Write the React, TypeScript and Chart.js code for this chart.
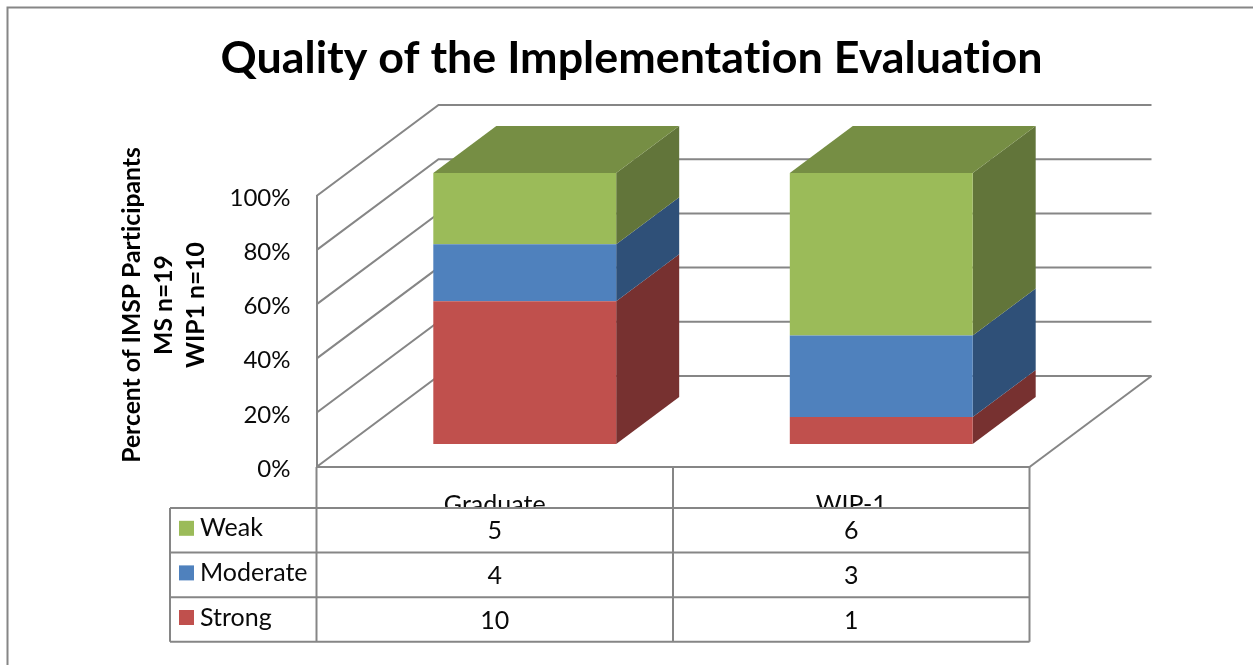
import React, { useEffect, useRef } from "react";
import { Chart, registerables } from "chart.js";

Chart.register(...registerables);

const categories = ["Graduate", "WIP-1"];
const strong = [10, 1];
const moderate = [4, 3];
const weak = [5, 6];
const yTicks = [0, 20, 40, 60, 80, 100];
const axisTitle = ["Percent of IMSP Participants", "MS n=19", "WIP1 n=10"];
const chartTitle = "Quality of the Implementation Evaluation";

const FONT = "Lato, Carlito, Calibri, sans-serif";
const LINE = "#868686";
const TEXT = "#0a0a0a";

const percent = (series: number[]) =>
  series.map((v, i) => (v / (strong[i] + moderate[i] + weak[i])) * 100);

const seriesRows = [
  { name: "Weak", counts: weak, front: "#9BBB59", side: "#62753A" },
  { name: "Moderate", counts: moderate, front: "#4F81BD", side: "#2F5078" },
  { name: "Strong", counts: strong, front: "#C0504D", side: "#773130" },
];
const TOP_FACE = "#768E44";

const WALL = { dx: 122, dy: 91 };
const BAR_SHIFT = { x: 30, y: -23 };
const BAR_DEPTH = { x: 63, y: -47 };
const TABLE = { left: 170, top: 508, row: 44.6 };

const line = (ctx: CanvasRenderingContext2D, pts: number[][]) => {
  ctx.beginPath();
  pts.forEach(([x, y], i) => (i ? ctx.lineTo(x, y) : ctx.moveTo(x, y)));
  ctx.stroke();
};
const poly = (ctx: CanvasRenderingContext2D, pts: number[][], fill: string) => {
  ctx.fillStyle = fill;
  ctx.beginPath();
  pts.forEach(([x, y], i) => (i ? ctx.lineTo(x, y) : ctx.moveTo(x, y)));
  ctx.closePath();
  ctx.fill();
};

const scene3d = {
  id: "scene3d",
  afterLayout(chart: any) {
    // give the title the full picture width, centred as in the reference
    chart.titleBlock.left = 10;
    chart.titleBlock.right = chart.width;
  },
  beforeDraw(chart: any) {
    const { ctx, width, height } = chart;
    // a non-zero spacing switches off the "ti" ligature of the font
    ctx.letterSpacing = "0.01px";
    ctx.save();
    ctx.fillStyle = "#fff";
    ctx.fillRect(0, 0, width, height);
    ctx.strokeStyle = LINE;
    ctx.lineWidth = 2;
    line(ctx, [[7.5, height], [7.5, 7.5], [width, 7.5]]);
    ctx.restore();
  },
  beforeDatasetsDraw(chart: any) {
    const { ctx, chartArea: a, scales } = chart;
    const y = scales.y;
    ctx.save();
    ctx.strokeStyle = LINE;
    ctx.lineWidth = 2;
    yTicks.forEach((t) => {
      const p = y.getPixelForValue(t);
      line(ctx, [[a.left, p], [a.left + WALL.dx, p - WALL.dy], [a.right + WALL.dx, p - WALL.dy]]);
    });
    line(ctx, [[a.right + WALL.dx, a.bottom - WALL.dy], [a.right, a.bottom]]);
    ctx.restore();

    // side and top faces of the bars, from the bar elements themselves
    ctx.save();
    ctx.translate(BAR_SHIFT.x, BAR_SHIFT.y);
    chart.data.datasets.forEach((ds: any, di: number) => {
      chart.getDatasetMeta(di).data.forEach((bar: any) => {
        const p = bar.getProps(["x", "y", "base", "width"], true);
        const r = p.x + p.width / 2;
        const l = p.x - p.width / 2;
        poly(
          ctx,
          [[r, p.y], [r + BAR_DEPTH.x, p.y + BAR_DEPTH.y], [r + BAR_DEPTH.x, p.base + BAR_DEPTH.y], [r, p.base]],
          ds.sideColor
        );
        if (di === chart.data.datasets.length - 1) {
          poly(
            ctx,
            [[l, p.y], [l + BAR_DEPTH.x, p.y + BAR_DEPTH.y], [r + BAR_DEPTH.x, p.y + BAR_DEPTH.y], [r, p.y]],
            TOP_FACE
          );
        }
      });
    });
    ctx.restore();
  },
  beforeDatasetDraw(chart: any) {
    chart.ctx.save();
    chart.ctx.translate(BAR_SHIFT.x, BAR_SHIFT.y);
  },
  afterDatasetDraw(chart: any) {
    chart.ctx.restore();
  },
  afterDraw(chart: any) {
    const { ctx, chartArea: a, scales } = chart;
    const x = scales.x;
    const rows = seriesRows.length;
    const bottom = TABLE.top + TABLE.row * rows;
    ctx.save();
    // white table body hides the lower part of the category labels
    ctx.fillStyle = "#fff";
    ctx.fillRect(TABLE.left, TABLE.top, a.right - TABLE.left, bottom - TABLE.top);
    ctx.strokeStyle = LINE;
    ctx.lineWidth = 2;
    for (let i = 0; i <= rows; i++) {
      const yy = TABLE.top + TABLE.row * i;
      line(ctx, [[TABLE.left, yy], [a.right, yy]]);
    }
    line(ctx, [[TABLE.left, TABLE.top], [TABLE.left, bottom]]);
    const mid = (x.getPixelForValue(0) + x.getPixelForValue(1)) / 2;
    [a.left, mid, a.right].forEach((px) => line(ctx, [[px, a.bottom], [px, bottom]]));

    ctx.textBaseline = "middle";
    seriesRows.forEach((row, r) => {
      const cy = TABLE.top + TABLE.row * (r + 0.5);
      ctx.fillStyle = row.front;
      ctx.fillRect(TABLE.left + 9, cy - 9.5, 15, 15);
      ctx.fillStyle = TEXT;
      ctx.font = `25px ${FONT}`;
      ctx.textAlign = "left";
      ctx.fillText(row.name, TABLE.left + 30, cy - 2);
      ctx.textAlign = "center";
      row.counts.forEach((v, i) => ctx.fillText(String(v), x.getPixelForValue(i), cy + 1));
    });

    // axis title
    ctx.save();
    ctx.translate(164, 305);
    ctx.rotate(-Math.PI / 2);
    ctx.fillStyle = "#000";
    ctx.font = `bold 24.7px ${FONT}`;
    ctx.textAlign = "center";
    axisTitle.forEach((t, i) => ctx.fillText(t, 0, (i - 1) * 32));
    ctx.restore();
    ctx.restore();
  },
};

export default function App() {
  const ref = useRef<HTMLCanvasElement>(null);
  useEffect(() => {
    document.body.style.margin = "0";
    const chart = new Chart(ref.current as HTMLCanvasElement, {
      type: "bar",
      data: {
        labels: categories,
        datasets: [...seriesRows].reverse().map((s) => ({
          label: s.name,
          data: percent(s.counts),
          backgroundColor: s.front,
          sideColor: s.side,
          borderWidth: 0,
          barPercentage: 0.513,
          categoryPercentage: 1,
          clip: false,
        })) as any,
      },
      options: {
        responsive: false,
        animation: false,
        layout: { padding: { left: 216.5, right: 223.5, top: 0, bottom: 0 } },
        plugins: {
          legend: { display: false },
          tooltip: { enabled: false },
          title: {
            display: true,
            text: chartTitle,
            color: "#000",
            font: { family: FONT, size: 44.8, weight: "bold", lineHeight: 1.2 },
            padding: { top: 32, bottom: 110.2 },
          },
        },
        scales: {
          x: {
            stacked: true,
            grid: { display: false, drawTicks: false },
            border: { display: true, color: LINE, width: 2 },
            ticks: { color: TEXT, font: { family: FONT, size: 25 }, padding: 23, maxRotation: 0 },
            afterFit: (s: any) => { s.height = 198; },
          },
          y: {
            stacked: true,
            min: 0,
            max: 100,
            grid: { display: false, drawTicks: false },
            border: { display: true, color: LINE, width: 2 },
            ticks: {
              stepSize: 20,
              color: TEXT,
              padding: 26,
              labelOffset: 2,
              font: { family: FONT, size: 24 },
              callback: (v: any) => `${v}%`,
            },
            afterFit: (s: any) => { s.width = 100; },
          },
        },
      },
      plugins: [scene3d],
    } as any);
    return () => chart.destroy();
  }, []);
  return <canvas ref={ref} width={1253} height={665} style={{ display: "block" }} />;
}
